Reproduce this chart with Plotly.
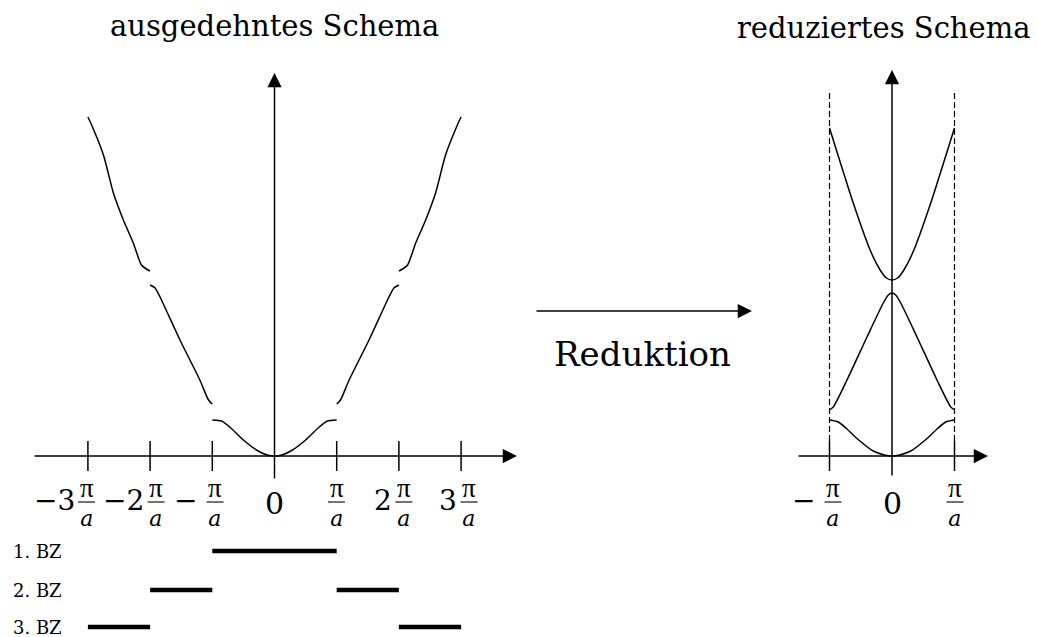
import plotly.graph_objects as go

# ---------------- data (k in units of pi/a, energy in arbitrary units) ----------------
# extended zone scheme
band1_k = [-1.0, -0.85, -0.72, -0.5, -0.29, -0.12, 0.0, 0.12, 0.29, 0.5, 0.72, 0.85, 1.0]
band1_E = [36, 35, 29, 16, 6, 1, 0, 1, 6, 16, 29, 35, 36]

band2L_k = [-2.0, -1.92, -1.84, -1.52, -1.2, -1.07, -1.02, -1.0]
band2L_E = [171, 168, 159, 116, 76, 57, 53, 52]
band2R_k = [1.0, 1.02, 1.07, 1.2, 1.52, 1.84, 1.92, 2.0]
band2R_E = [52, 53, 57, 76, 116, 159, 168, 171]

band3L_k = [-3.0, -2.94, -2.75, -2.59, -2.43, -2.27, -2.14, -2.06, -2.0]
band3L_E = [339, 331, 301, 263, 236, 213, 191, 187, 185]
band3R_k = [2.0, 2.06, 2.14, 2.27, 2.43, 2.59, 2.75, 2.94, 3.0]
band3R_E = [185, 187, 191, 213, 236, 263, 301, 331, 339]

# reduced zone scheme
red1_k = [-1.0, -0.86, -0.72, -0.57, -0.3, -0.12, 0.0, 0.12, 0.3, 0.57, 0.72, 0.86, 1.0]
red1_E = [36, 34, 27, 18, 5, 1, 0, 1, 5, 18, 27, 34, 36]
red2_k = [-1.0, -0.94, -0.72, -0.4, -0.14, -0.06, 0.0, 0.06, 0.14, 0.4, 0.72, 0.94, 1.0]
red2_E = [46, 49, 76, 119, 153, 161, 163, 161, 153, 119, 76, 49, 46]
red3_k = [-1.0, -0.94, -0.62, -0.35, -0.19, -0.09, 0.0, 0.09, 0.19, 0.35, 0.62, 0.94, 1.0]
red3_E = [328, 316, 253, 206, 186, 178, 176, 178, 186, 206, 253, 316, 328]

# Brillouin zones
bz_labels = ["1. BZ", "2. BZ", "3. BZ"]
bz_segments = [[(-1, 1)], [(-2, -1), (1, 2)], [(-3, -2), (2, 3)]]

# tick labels
left_ticks = [-3, -2, -1, 0, 1, 2, 3]
left_prefix = ["\u22123", "\u22122", "\u2212", "0", "", "2", "3"]
left_frac = [True, True, True, False, True, True, True]
right_ticks = [-1, 0, 1]
right_prefix = ["\u2212", "0", ""]
right_frac = [True, False, True]

titles = ["ausgedehntes Schema", "reduziertes Schema"]
arrow_label = "Reduktion"

# ---------------- geometry helpers (pixel layout) ----------------
W, H = 1037, 637
XL0, SL = 274.5, 62.2    # left panel: origin pixel, px per pi/a
XR0, SR = 892.0, 62.5    # right panel
Y0 = 456.0               # pixel row of the k axis
SPLIT = 518.5


def Lk(px):
    return (px - XL0) / SL


def Rk(px):
    return (px - XR0) / SR


def Ey(py):
    return Y0 - py


FONT = "DejaVu Serif"
LW = 1.5

fig = go.Figure()


def curve(k, e, xa, ya):
    fig.add_trace(go.Scatter(x=k, y=e, mode="lines", xaxis=xa, yaxis=ya,
                             line=dict(color="black", width=LW, shape="spline", smoothing=0.6),
                             hoverinfo="skip", showlegend=False))


for k, e in [(band1_k, band1_E), (band2L_k, band2L_E), (band2R_k, band2R_E),
             (band3L_k, band3L_E), (band3R_k, band3R_E)]:
    curve(k, e, "x", "y")
for k, e in [(red1_k, red1_E), (red2_k, red2_E), (red3_k, red3_E)]:
    curve(k, e, "x2", "y2")

# Brillouin zone bars
bz_rows = [551, 590, 627]
for lab, segs, row in zip(bz_labels, bz_segments, bz_rows):
    for a, b in segs:
        fig.add_trace(go.Scatter(x=[a, b], y=[Ey(row), Ey(row)], mode="lines",
                                 xaxis="x", yaxis="y",
                                 line=dict(color="black", width=4.5),
                                 hoverinfo="skip", showlegend=False))

annotations = []
shapes = []


def arrow(xref, yref, x0, y0, x1, y1):
    annotations.append(dict(xref=xref, yref=yref, axref=xref, ayref=yref,
                            x=x1, y=y1, ax=x0, ay=y0, text="", showarrow=True,
                            arrowhead=2, arrowsize=1.9, arrowwidth=LW,
                            arrowcolor="black"))


def seg(xref, yref, x0, y0, x1, y1, width=LW, dash=None):
    line = dict(color="black", width=width)
    if dash:
        line["dash"] = dash
    shapes.append(dict(type="line", xref=xref, yref=yref, x0=x0, y0=y0,
                       x1=x1, y1=y1, line=line, layer="above"))


def text(xref, yref, x, y, s, size, xanchor="center", yanchor="middle"):
    annotations.append(dict(xref=xref, yref=yref, x=x, y=y, text=s, showarrow=False,
                            xanchor=xanchor, yanchor=yanchor, borderpad=0,
                            font=dict(family=FONT, size=size, color="black")))


# ---- left panel axes ----
arrow("x", "y", Lk(33), 0, Lk(517), 0)
arrow("x", "y", 0, Ey(480), 0, Ey(73))
for t in left_ticks:
    if t != 0:
        seg("x", "y", t, Ey(441), t, Ey(471))

# ---- right panel axes ----
arrow("x2", "y2", Rk(797), 0, Rk(988), 0)
arrow("x2", "y2", 0, Ey(477), 0, Ey(70))
for t in right_ticks:
    if t != 0:
        seg("x2", "y2", t, Ey(441), t, Ey(471))
        seg("x2", "y2", t, Ey(441), t, Ey(92), width=1.2, dash="6px,3px")

# ---- tick labels ----
left_dx = {-3: -1.4, -2: 6, -1: 2.7, 1: -0.2, 2: 5, 3: 8}
right_dx = {-1: 3.5, 1: 0.5}
PI = '<span style="font-family:Liberation Serif;font-size:27px">\u03c0</span>'


def tick_labels(ticks, prefix, frac, x0, s, xref, yref, dxmap):
    for t, p, f in zip(ticks, prefix, frac):
        if not f:
            text(xref, yref, t, Ey(503), p, 30)
            continue
        cpx = x0 + t * s + dxmap[t]
        c = (cpx - x0) / s
        text(xref, yref, c, Ey(502), PI + "<br><i>a</i>", 22)
        seg(xref, yref, (cpx - 8.5 - x0) / s, Ey(502), (cpx + 8.5 - x0) / s, Ey(502), width=1.1)
        if p:
            gap = 17 if p == "\u2212" else 11
            text(xref, yref, (cpx - gap - x0) / s, Ey(500), p, 28, xanchor="right")


tick_labels(left_ticks, left_prefix, left_frac, XL0, SL, "x", "y", left_dx)
tick_labels(right_ticks, right_prefix, right_frac, XR0, SR, "x2", "y2", right_dx)

# ---- BZ labels ----
for lab, row in zip(bz_labels, bz_rows):
    text("x", "y", Lk(12), Ey(row), lab, 18, xanchor="left")

# ---- titles ----
text("x", "y", Lk(274.5), Ey(26), titles[0], 29)
text("x2", "y2", Rk(884), Ey(28), titles[1], 29)

# ---- reduction arrow ----
arrow("x2", "y2", Rk(535), Ey(311), Rk(752), Ey(311))
text("x2", "y2", Rk(642.5), Ey(354), arrow_label, 34)

ax_common = dict(visible=False, showgrid=False, zeroline=False, fixedrange=True)
fig.update_layout(
    width=W, height=H, autosize=False,
    margin=dict(l=0, r=0, t=0, b=0, pad=0),
    paper_bgcolor="white", plot_bgcolor="white",
    showlegend=False,
    xaxis=dict(domain=[0, SPLIT / W], range=[Lk(0), Lk(SPLIT)], **ax_common),
    xaxis2=dict(domain=[SPLIT / W, 1], range=[Rk(SPLIT), Rk(W)], **ax_common),
    yaxis=dict(domain=[0, 1], range=[Ey(H), Ey(0)], **ax_common),
    yaxis2=dict(domain=[0, 1], range=[Ey(H), Ey(0)], anchor="x2", **ax_common),
    annotations=annotations,
    shapes=shapes,
)

fig.write_html("out.html", config={"displayModeBar": False},
               post_script="document.body.style.margin='0';")
